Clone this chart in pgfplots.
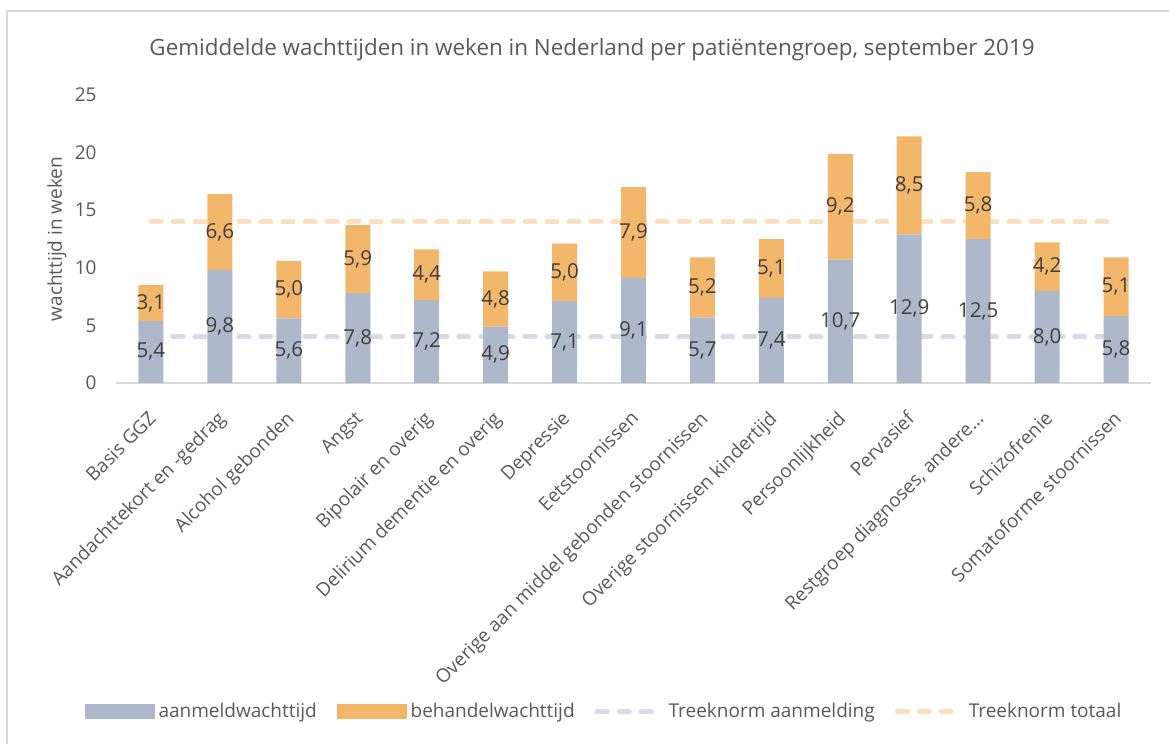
\documentclass[border=0pt]{standalone}
\usepackage{fontspec}
\setmainfont{Open Sans}
\usepackage{pgfplots}
\pgfplotsset{compat=1.18}
\usepackage{pgfplotstable}

\definecolor{aanmeld}{HTML}{ADB9CA}
\definecolor{behandel}{HTML}{F2B76B}
\definecolor{normaan}{HTML}{D6DCE5}
\definecolor{normtot}{HTML}{FAE0BE}
\definecolor{txt}{HTML}{595959}
\definecolor{lbl}{HTML}{404040}
\definecolor{frame}{HTML}{D9D9D9}

% wachttijden per patientengroep (weken)
\pgfplotstableread{
x aan beh
0 5.4 3.1
1 9.8 6.6
2 5.6 5.0
3 7.8 5.9
4 7.2 4.4
5 4.9 4.8
6 7.1 5.0
7 9.1 7.9
8 5.7 5.2
9 7.4 5.1
10 10.7 9.2
11 12.9 8.5
12 12.5 5.8
13 8.0 4.2
14 5.8 5.1
}\wachttijd

\pgfplotstableread{
x aanm totaal
0 4 14
1 4 14
2 4 14
3 4 14
4 4 14
5 4 14
6 4 14
7 4 14
8 4 14
9 4 14
10 4 14
11 4 14
12 4 14
13 4 14
14 4 14
}\treeknorm

\tikzset{norm/.style={line width=2.5pt, line cap=round, dash pattern=on 5pt off 6pt}}
\pgfplotsset{
  basis/.style={
    scale only axis, width=517pt, height=144pt,
    at={(0,0)}, anchor=south west,
    xmin=-0.5, xmax=14.5, ymin=0, ymax=25,
    /pgf/number format/assume math mode=true,
  },
}

\begin{document}
\begin{tikzpicture}
\path[use as bounding box] (-58.25pt,-180.5pt) rectangle (526.25pt,191.5pt);
\draw[frame, line width=1pt] (-54.75pt,-180.5pt) -- (-54.75pt,186pt) -- (526.25pt,186pt);

% staven en treeknormen
\begin{axis}[basis,
  ybar stacked, bar width=12.5pt,
  axis x line*=bottom, axis y line*=left,
  x axis line style={draw=frame, line width=0.75pt},
  y axis line style={draw=none},
  major tick length=0pt, tick style={draw=none},
  ytick={0,5,...,25},
  yticklabel style={font=\fontsize{9.5}{11}\selectfont, text=txt, inner sep=0pt, xshift=-9.75pt},
  xtick={0,...,14},
  xticklabels={Basis GGZ, Aandachttekort en -gedrag, Alcohol gebonden, Angst,
    Bipolair en overig, Delirium dementie en overig, Depressie, Eetstoornissen,
    Overige aan middel gebonden stoornissen, Overige stoornissen kindertijd,
    Persoonlijkheid, Pervasief, {Restgroep diagnoses, andere…}, Schizofrenie,
    Somatoforme stoornissen},
  xticklabel style={font=\fontsize{9.5}{11}\selectfont, text=txt, rotate=45,
    anchor=north east, inner sep=0pt, xshift=-10.6pt, yshift=-7.9pt},
  ylabel={wachttijd in weken},
  ylabel style={at={(axis description cs:-0.0575,0.5)}, anchor=center,
    font=\fontsize{9.5}{11}\selectfont, text=txt},
  title={Gemiddelde wachttijden in weken in Nederland per patiëntengroep, september 2019},
  title style={at={(0.4599,1.1146)}, anchor=center,
    font=\fontsize{11.2}{13}\selectfont, text=txt},
]
\addplot[fill=aanmeld, draw=none] table[x=x, y=aan] {\wachttijd};
\addplot[fill=behandel, draw=none] table[x=x, y=beh] {\wachttijd};
\addplot[stack plots=false, sharp plot, norm, normaan] table[x=x, y=aanm] {\treeknorm};
\addplot[stack plots=false, sharp plot, norm, normtot] table[x=x, y=totaal] {\treeknorm};
\end{axis}

% waardelabels (midden van elk segment) en legenda
\begin{axis}[basis, hide axis,
  legend columns=4,
  legend cell align=left,
  legend style={at={(0.4725,-1.142)}, anchor=center, draw=none, fill=none,
    font=\fontsize{9.5}{11}\selectfont, text=txt,
    /tikz/every even column/.append style={column sep=8pt}},
  nodes near coords={\pgfmathprintnumber[fixed, fixed zerofill, precision=1, use comma]{\pgfplotspointmeta}},
  every node near coord/.append style={font=\fontsize{10.3}{12}\selectfont, text=lbl,
    anchor=center, inner sep=0pt},
]
\addlegendimage{legend image code/.code={\fill[aanmeld] (0pt,-3.5pt) rectangle (34.5pt,3.5pt);}}
\addlegendentry{aanmeldwachttijd}
\addlegendimage{legend image code/.code={\fill[behandel] (0pt,-3.5pt) rectangle (34.5pt,3.5pt);}}
\addlegendentry{behandelwachttijd}
\addlegendimage{legend image code/.code={\draw[norm, normaan] (2pt,0pt) -- (34.5pt,0pt);}}
\addlegendentry{Treeknorm aanmelding}
\addlegendimage{legend image code/.code={\draw[norm, normtot] (2pt,0pt) -- (34.5pt,0pt);}}
\addlegendentry{Treeknorm totaal}
\addplot[only marks, mark=none, draw=none, point meta=explicit]
  table[x=x, y expr=\thisrow{aan}/2, meta=aan] {\wachttijd};
\addplot[only marks, mark=none, draw=none, point meta=explicit]
  table[x=x, y expr=\thisrow{aan}+\thisrow{beh}/2, meta=beh] {\wachttijd};
\end{axis}
\end{tikzpicture}
\end{document}
